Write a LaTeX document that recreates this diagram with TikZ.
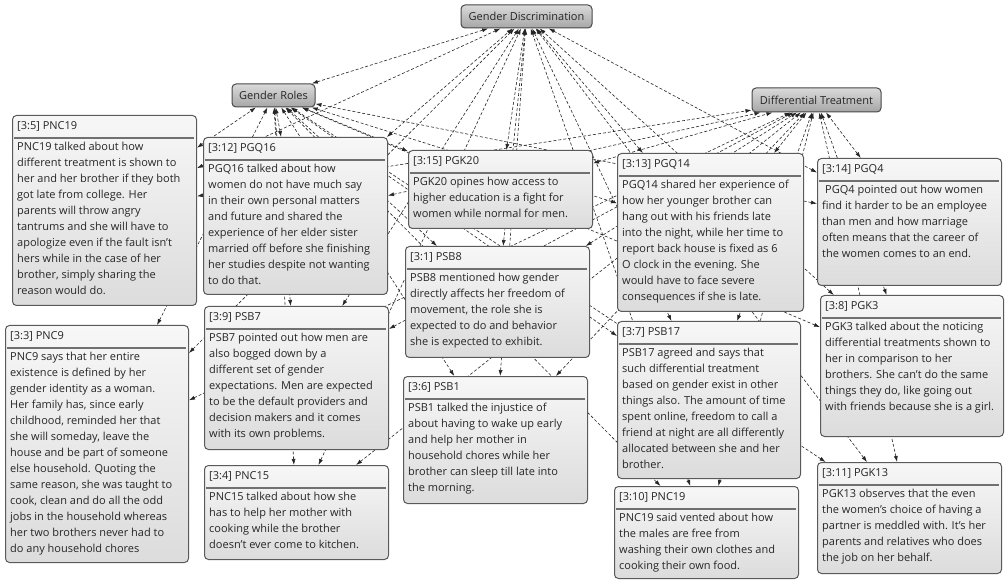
\documentclass[tikz,border=0pt]{standalone}
\usepackage{fontspec}
\setmainfont{Open Sans}
\usetikzlibrary{arrows.meta}

\pgfdeclarelayer{paper}
\pgfdeclarelayer{links}
\pgfsetlayers{paper,links,main}

\definecolor{boxline}{HTML}{5A5A5A}
\definecolor{boxtop}{HTML}{F7F7F7}
\definecolor{boxbot}{HTML}{DCDCDC}
\definecolor{codetop}{HTML}{DADADA}
\definecolor{codebot}{HTML}{A6A6A6}
\definecolor{ink}{HTML}{262626}
\definecolor{rulegray}{HTML}{707070}

\newcommand\boxfont{\fontsize{11pt}{16pt}\selectfont}

\tikzset{
  quotebox/.style={draw=boxline, line width=1pt, rounded corners=4pt,
    top color=boxtop, bottom color=boxbot, inner sep=0pt, anchor=north west},
  codebox/.style={draw=boxline!80!black, line width=1pt, rounded corners=4pt,
    top color=codetop, bottom color=codebot, inner sep=0pt, font=\boxfont, text=ink},
  head/.style={anchor=west, inner sep=0pt, font=\boxfont, text=ink},
  body/.style={anchor=north west, inner sep=0pt, align=left, font=\boxfont, text=ink},
  sep/.style={draw=rulegray, line width=1.6pt},
  link/.style={draw=black!85, line width=0.6pt, dash pattern=on 3pt off 2pt,
    {Latex[length=6pt,width=4pt]}-{Latex[length=6pt,width=4pt]}},
}

% quotation box: name, x, y, width, height, header, body
\newcommand\quotebox[7]{%
  \node[quotebox, minimum width=#4, minimum height=#5] (#1) at (#2,#3) {};
  \node[head] (#1-h) at (#2+5,#3+11.5) {#6};
  \draw[sep] (#2+2,#3+23) -- (#2+#4-2,#3+23);
  \node[body] (#1-t) at (#2+5,#3+27) {#7};
}

\begin{document}
\begin{tikzpicture}[x=1pt,y=-1pt]
\begin{pgfonlayer}{paper}
  \fill[white] (0,0) rectangle (1005,580);
\end{pgfonlayer}
\useasboundingbox (0,0) rectangle (1005,580);

% codes
\node[codebox, minimum width=131, minimum height=23] (gd) at (526.5,16.5) {Gender Discrimination};
\node[codebox, minimum width=83, minimum height=23] (gr) at (273.5,95.5) {Gender Roles};
\node[codebox, minimum width=129, minimum height=24] (dt) at (816.5,100) {Differential Treatment};

% quotations
\quotebox{q5}{12}{115}{184}{190}{[3:5] PNC19}{%
PNC19 talked about how\\
different treatment is shown to\\
her and her brother if they both\\
got late from college. Her\\
parents will throw angry\\
tantrums and she will have to\\
apologize even if the fault isn't\\
hers while in the case of her\\
brother, simply sharing the\\
reason would do.}

\quotebox{q12}{203}{137}{184}{157}{[3:12] PGQ16}{%
PGQ16 talked about how\\
women do not have much say\\
in their own personal matters\\
and future and shared the\\
experience of her elder sister\\
married off before she finishing\\
her studies despite not wanting\\
to do that.}

\quotebox{q15}{408}{150}{184}{78}{[3:15] PGK20}{%
PGK20 opines how access to\\
higher education is a fight for\\
women while normal for men.}

\quotebox{q13}{617}{153}{186}{158}{[3:13] PGQ14}{%
PGQ14 shared her experience of\\
how her younger brother can\\
hang out with his friends late\\
into the night, while her time to\\
report back house is fixed as 6\\
O clock in the evening. She\\
would have to face severe\\
consequences if she is late.}

\quotebox{q14}{817}{158}{184}{127}{[3:14] PGQ4}{%
\hspace*{3pt}PGQ4 pointed out how women\\
find it harder to be an employee\\
than men and how marriage\\
often means that the career of\\
the women comes to an end.}

\quotebox{q1}{405}{246}{184}{111}{[3:1] PSB8}{%
PSB8 mentioned how gender\\
directly affects her freedom of\\
movement, the role she is\\
expected to do and behavior\\
she is expected to exhibit.}

\quotebox{q9}{204}{306}{184}{143}{[3:9] PSB7}{%
PSB7 pointed out how men are\\
also bogged down by a\\
different set of gender\\
expectations. Men are expected\\
to be the default providers and\\
decision makers and it comes\\
with its own problems.}

\quotebox{q3}{5}{325}{183}{237}{[3:3] PNC9}{%
PNC9 says that her entire\\
existence is defined by her\\
gender identity as a woman.\\
Her family has, since early\\
childhood, reminded her that\\
she will someday, leave the\\
house and be part of someone\\
else household. Quoting the\\
same reason, she was taught to\\
cook, clean and do all the odd\\
jobs in the household whereas\\
her two brothers never had to\\
do any household chores}

\quotebox{q4}{204}{465}{184}{94}{[3:4] PNC15}{%
PNC15 talked about how she\\
has to help her mother with\\
cooking while the brother\\
doesn't ever come to kitchen.}

\quotebox{q6}{403}{376}{184}{127}{[3:6] PSB1}{%
PSB1 talked the injustice of\\
about having to wake up early\\
and help her mother in\\
household chores while her\\
brother can sleep till late into\\
the morning.}

\quotebox{q7}{617}{321}{183}{157}{[3:7] PSB17}{%
PSB17 agreed and says that\\
such differential treatment\\
based on gender exist in other\\
things also. The amount of time\\
spent online, freedom to call a\\
friend at night are all differently\\
allocated between she and her\\
brother.}

\quotebox{q10}{614}{486}{184}{92}{[3:10] PNC19}{%
PNC19 said vented about how\\
the males are free from\\
washing their own clothes and\\
cooking their own food.}

\quotebox{q8}{820}{295}{183}{141}{[3:8] PGK3}{%
PGK3 talked about the noticing\\
differential treatments shown to\\
her in comparison to her\\
brothers. She can't do the same\\
things they do, like going out\\
with friends because she is a girl.}

\quotebox{q11}{817}{462}{184}{111}{[3:11] PGK13}{%
PGK13 observes that the even\\
the women's choice of having a\\
partner is meddled with. It's her\\
parents and relatives who does\\
the job on her behalf.}

% links from every quotation to each code, drawn behind the boxes
\begin{pgfonlayer}{links}
  \foreach \q in {q5,q12,q15,q13,q14,q1,q9,q3,q4,q6,q7,q10,q8,q11}{
    \foreach \c in {gd,gr,dt}{
      \draw[link] (\q) -- (\c);
    }
  }
  \draw[link] (gr) -- (gd);
\end{pgfonlayer}
\end{tikzpicture}
\end{document}
